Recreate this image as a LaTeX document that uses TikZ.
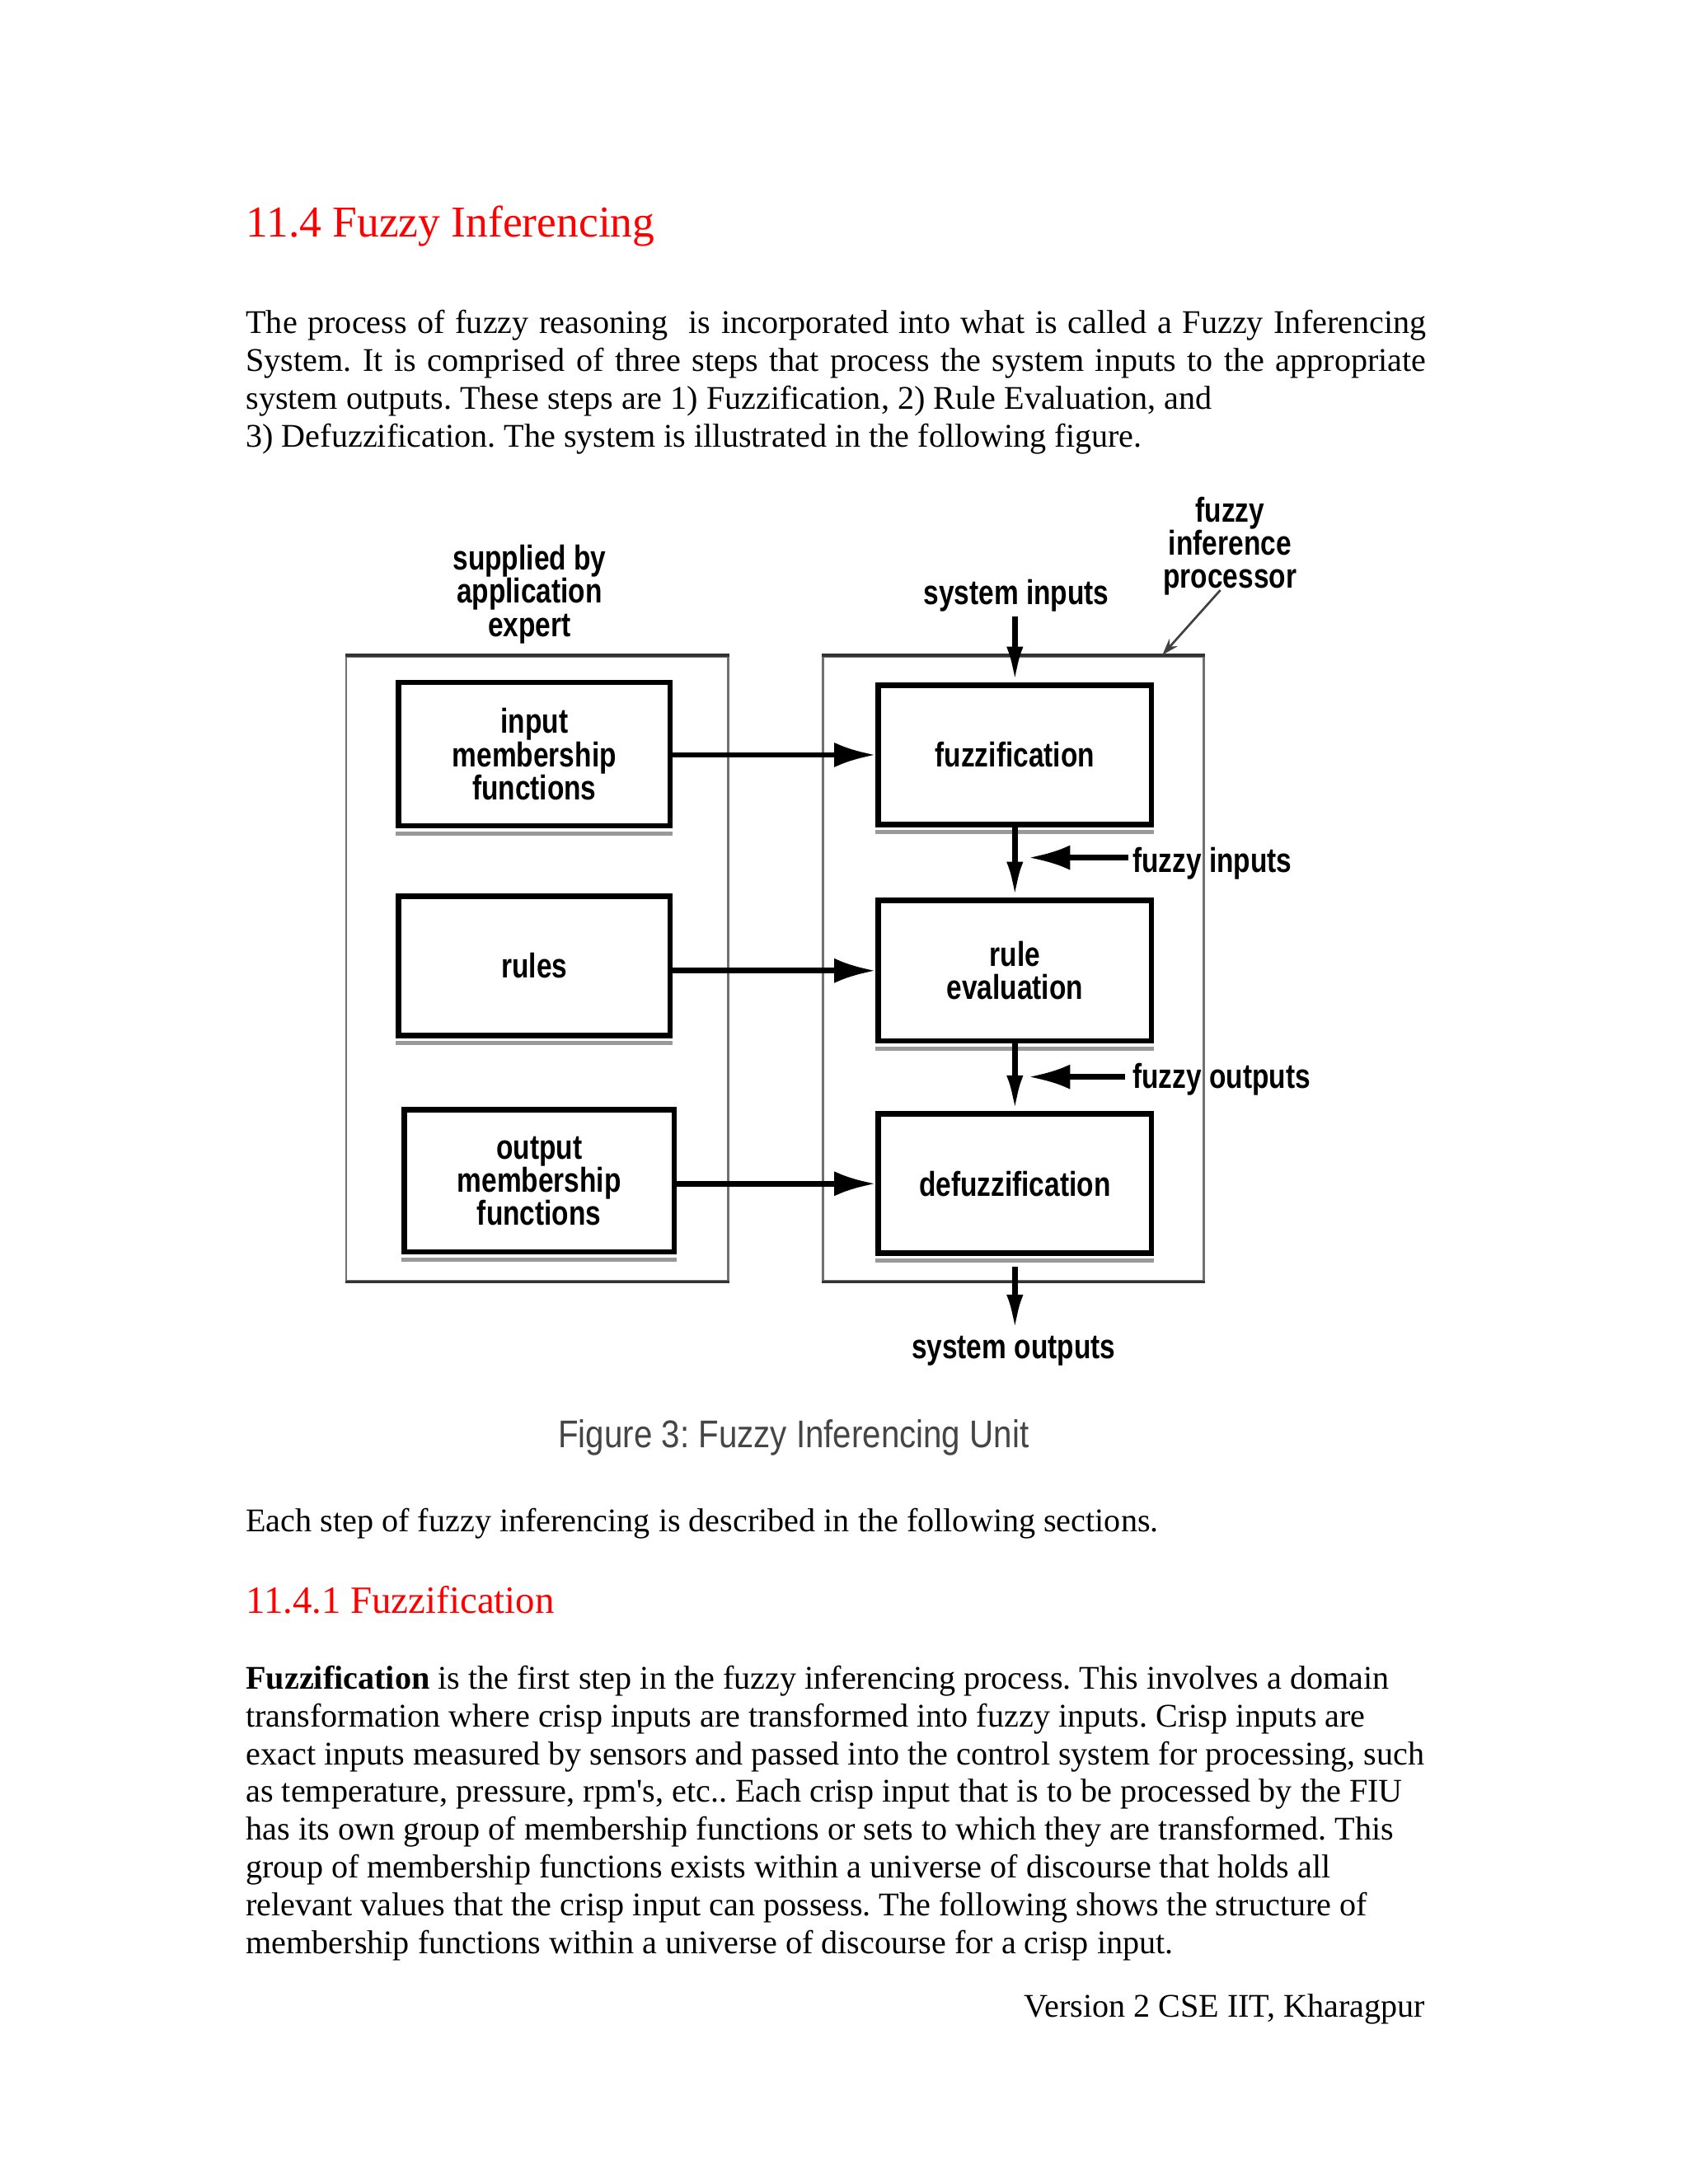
\documentclass[tikz,border=0pt]{standalone}
\usepackage{fontspec}
\setmainfont{Liberation Serif}
\newfontfamily\dfont[FakeStretch=0.8]{Liberation Sans Bold}
\newfontfamily\cfont[FakeStretch=0.86]{Liberation Sans}
\usetikzlibrary{arrows.meta}
\definecolor{capgray}{HTML}{454545}
\definecolor{boxgray}{HTML}{707070}
\frenchspacing
\tikzset{
  txt/.style={anchor=base west, inner sep=0pt, font=\fontsize{12}{13.6}\selectfont},
  head/.style={anchor=base west, inner sep=0pt, text=red},
  dlab/.style={inner sep=0pt, align=center, font=\dfont\fontsize{12.5}{12}\selectfont},
  inbox/.style={draw=black, line width=2pt, inner sep=0pt, align=center,
     font=\dfont\fontsize{12.5}{12}\selectfont},
  outbox/.style={draw=boxgray, line width=0.8pt, inner sep=0pt},
  arr/.style={line width=2pt, -{Latex[length=15pt,width=9pt]}},
  varr/.style={line width=2pt, -{Latex[length=13pt,width=6pt]}},
  thinarr/.style={line width=0.8pt, draw=black!75, -{Stealth[length=6pt,width=4pt]}},
}
\begin{document}
\frenchspacing
\begin{tikzpicture}[x=1pt,y=-1pt]
\useasboundingbox[fill=white] (0,0) rectangle (612,792);

% heading and first paragraph
\node[head, font=\fontsize{16}{18}\selectfont] (h1) at (89,86) {11.4 Fuzzy Inferencing};
\node[txt] (p1) at (89,121) {\makebox[428pt][s]{The process of fuzzy reasoning \ is incorporated into what is called a Fuzzy Inferencing}};
\node[txt] (p2) at (89,134.7) {\makebox[428pt][s]{System. It is comprised of three steps that process the system inputs to the appropriate}};
\node[txt] (p3) at (89,148.4) {system outputs. These steps are 1) Fuzzification, 2) Rule Evaluation, and};
\node[txt] (p4) at (89,162) {3) Defuzzification. The system is illustrated in the following figure.};

% outer boxes
\node[outbox, minimum width=138.5pt, minimum height=226.5pt] (lo) at (194.75,351.25) {};
\node[outbox, minimum width=138pt, minimum height=226.5pt] (ro) at (367.5,351.25) {};
\draw[line width=1.4pt, black!80] (lo.north west) -- (lo.north east);
\draw[line width=1.4pt, black!80] (ro.north west) -- (ro.north east);
\draw[line width=1.1pt, black!80] (lo.south west) -- (lo.south east);
\draw[line width=1.1pt, black!80] (ro.south west) -- (ro.south east);

% inner boxes
\node[inbox, minimum width=98.5pt, minimum height=52pt] (imf) at (193.75,273.5) {input\\membership\\functions};
\node[inbox, minimum width=98.5pt, minimum height=50.5pt] (rules) at (193.75,350.25) {rules};
\node[inbox, minimum width=98pt, minimum height=51.5pt] (omf) at (195.5,428.25) {output\\membership\\functions};
\node[inbox, minimum width=99pt, minimum height=50.5pt] (fuzz) at (368,273.75) {fuzzification};
\node[inbox, minimum width=99pt, minimum height=51pt] (reval) at (368,352) {rule\\evaluation};
\node[inbox, minimum width=99pt, minimum height=50.5pt] (defuzz) at (368,429.25) {defuzzification};
\foreach \b in {imf,rules,omf,fuzz,reval,defuzz}{
  \draw[line width=1.5pt, black!40] ([yshift=-1.7pt]\b.south west) -- ([yshift=-1.7pt]\b.south east);
}

% labels
\node[dlab] (sup) at (192,215.5) {supplied by\\application\\expert};
\node[dlab] (fip) at (446,198) {fuzzy\\inference\\processor};
\node[dlab] (sin) at (368.5,216) {system inputs};
\node[dlab, anchor=west] (fin) at (410.5,313) {fuzzy inputs};
\node[dlab, anchor=west] (fout) at (410.5,391.5) {fuzzy outputs};
\node[dlab] (sout) at (367.5,490) {system outputs};

\coordinate (sitop) at (368,223.5);
\coordinate (sobot) at (368,482.5);
\coordinate (fiend) at (409,311);
\coordinate (foend) at (408,390.5);
\coordinate (fiptail) at (442.5,214);
\coordinate (fiptip) at (421.5,237.5);

% horizontal arrows
\draw[arr] (imf.east |- fuzz.west) -- (fuzz.west);
\draw[arr] (rules.east |- reval.west) -- (reval.west);
\draw[arr] (omf.east |- defuzz.west) -- (defuzz.west);

% vertical arrows
\draw[varr] (sitop) -- (fuzz.north);
\draw[varr] (fuzz.south) -- (reval.north);
\draw[varr] (reval.south) -- (defuzz.north);
\draw[varr] ([yshift=-4pt]defuzz.south) -- (sobot);

% side arrows
\draw[arr] (fiend) -- ([xshift=5pt]fuzz.south |- fiend);
\draw[arr] (foend) -- ([xshift=5pt]reval.south |- foend);
\draw[thinarr] (fiptail) -- (fiptip);

% caption
\node[inner sep=0pt, anchor=base, text=capgray, font=\cfont\fontsize{14}{16}\selectfont] (cap) at (287.75,525) {Figure 3: Fuzzy Inferencing Unit};

% following text
\node[txt] (e1) at (89,555.5) {Each step of fuzzy inferencing is described in the following sections.};
\node[head, font=\fontsize{14}{16}\selectfont] (h2) at (89,585) {11.4.1 Fuzzification};
\node[txt] (q1) at (89,612.5) {\textbf{Fuzzification} is the first step in the fuzzy inferencing process. This involves a domain};
\node[txt] (q2) at (89,626.2) {transformation where crisp inputs are transformed into fuzzy inputs. Crisp inputs are};
\node[txt] (q3) at (89,639.9) {exact inputs measured by sensors and passed into the control system for processing, such};
\node[txt] (q4) at (89,653.6) {as temperature, pressure, rpm\textquotesingle s, etc.. Each crisp input that is to be processed by the FIU};
\node[txt] (q5) at (89,667.3) {has its own group of membership functions or sets to which they are transformed. This};
\node[txt] (q6) at (89,681) {group of membership functions exists within a universe of discourse that holds all};
\node[txt] (q7) at (89,694.7) {relevant values that the crisp input can possess. The following shows the structure of};
\node[txt] (q8) at (89,708.4) {membership functions within a universe of discourse for a crisp input.};
\node[txt, anchor=base east] (foot) at (517,731.5) {Version 2 CSE IIT, Kharagpur};
\end{tikzpicture}
\end{document}
